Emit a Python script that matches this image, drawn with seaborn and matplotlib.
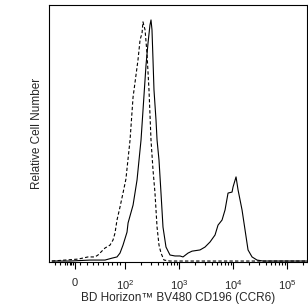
import matplotlib
matplotlib.use("Agg")
import matplotlib.pyplot as plt
import seaborn as sns
from matplotlib.ticker import FixedLocator, FixedFormatter, NullFormatter

# stained sample (solid) - x in fluorescence units, y relative count
stained_x = [-46, -10, 30, 60, 74, 84, 90, 96, 109, 114, 141, 167, 198, 225, 245, 267,
             290, 303, 316, 330, 344, 375, 392, 426, 464, 505, 574, 681, 843, 1044,
             1186, 1468, 1741, 2447, 3029, 3750, 4642, 5275, 6257, 7113, 8082, 9584,
             10000, 11364, 12384, 14678, 16681, 18957, 22480, 27826, 35938, 234000]
stained_y = [0, 0, 0.4, 0.4, 1.2, 1.7, 3.3, 6.6, 12.0, 15.8, 23.2, 33.6, 50.2, 68.9,
             81.3, 90.5, 97.9, 100, 95.9, 83.4, 71.0, 58.5, 50.2, 41.9, 28.2, 14.1,
             5.8, 2.5, 2.1, 2.1, 1.7, 3.3, 4.1, 4.6, 5.8, 7.9, 10.8, 14.9, 17.0, 21.2,
             28.2, 28.6, 30.7, 34.9, 29.5, 21.2, 12.9, 4.6, 1.7, 0.4, 0, 0]

# isotype control (dashed)
control_x = [-46, -20, 6, 26, 40, 46, 60, 70, 76, 80, 84, 90, 96, 104, 124, 141, 147,
             174, 190, 207, 215, 235, 255, 278, 303, 330, 359, 392, 426, 464, 527,
             681, 234000]
control_y = [0, 0.4, 0.8, 1.7, 1.7, 2.5, 5.4, 6.6, 8.7, 11.6, 17.0, 22.4, 28.2, 34.0,
             50.2, 68.0, 71.0, 83.4, 91.7, 94.6, 99.2, 95.9, 86.3, 71.0, 50.2, 37.8,
             28.2, 14.1, 6.6, 3.3, 0.4, 0, 0]

major_ticks = [0, 100, 1000, 10000, 100000]
major_labels = ["0", "$10^2$", "$10^3$", "$10^4$", "$10^5$"]
minor_ticks = ([-40, -30, -20, -15, -10, -7, -4, 10, 24, 36, 46, 56, 66, 74, 84, 90]
               + [m * 10 ** e for e in (2, 3, 4) for m in range(2, 10)] + [200000])

sns.set_style("ticks")
plt.rcParams["font.family"] = ["Liberation Sans", "DejaVu Sans"]
plt.rcParams["mathtext.fontset"] = "custom"
plt.rcParams["mathtext.rm"] = "Liberation Sans"
plt.rcParams["mathtext.default"] = "regular"

fig = plt.figure(figsize=(3.08, 3.06), dpi=100)
ax = fig.add_axes([49 / 308, 44 / 306, 258 / 308, 257 / 306])

sns.lineplot(x=control_x, y=control_y, sort=False, estimator=None, ax=ax,
             color="black", linewidth=0.8, linestyle=(0, (3, 2)))
sns.lineplot(x=stained_x, y=stained_y, sort=False, estimator=None, ax=ax,
             color="black", linewidth=0.8)

ax.set_xscale("symlog", linthresh=100, linscale=0.833)
ax.set_xlim(-52, 234000)
ax.set_ylim(-0.4, 106.2)

ax.xaxis.set_major_locator(FixedLocator(major_ticks))
ax.xaxis.set_major_formatter(FixedFormatter(major_labels))
ax.xaxis.set_minor_locator(FixedLocator(minor_ticks))
ax.xaxis.set_minor_formatter(NullFormatter())
ax.tick_params(axis="x", which="major", length=5, width=0.8, direction="out",
               labelsize=8, pad=6.5, color="black")
ax.tick_params(axis="x", which="minor", length=2.5, width=0.8, direction="out",
               color="black")
ax.set_yticks([])

for s in ax.spines.values():
    s.set_visible(True)
    s.set_color("black")
    s.set_linewidth(0.8)

ax.set_xlabel("BD Horizon\u2122 BV480 CD196 (CCR6)", fontsize=8.5, labelpad=0)
ax.set_ylabel("Relative Cell Number", fontsize=8.5, labelpad=4)

fig.savefig("out.png", dpi=100)
